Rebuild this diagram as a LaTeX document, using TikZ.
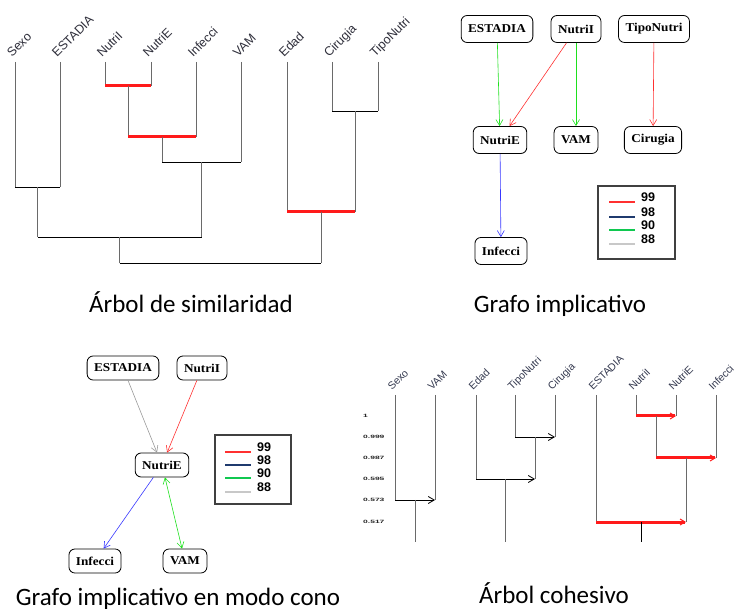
\documentclass[tikz,border=0pt]{standalone}
\usepackage{fontspec}
\setmainfont{Liberation Sans}
\newfontfamily\titlefam{Carlito}
\newfontfamily\varfam{Liberation Serif}[FakeStretch=1.1]
\usepackage{tikz}
\usetikzlibrary{arrows.meta,calc}
\usepackage{xcolor}
\definecolor{HotRed}{HTML}{FF1A1A}
\definecolor{ImpRed}{HTML}{FF3030}
\definecolor{ImpBlue}{HTML}{3838FF}
\definecolor{ImpGreen}{HTML}{1EE01E}
\definecolor{ImpGray}{HTML}{9A9A9A}
\definecolor{LegNavy}{HTML}{1F3A6E}
\definecolor{LegGreen}{HTML}{10C850}
\definecolor{LegGray}{HTML}{C8C8C8}
\definecolor{TreeGray}{HTML}{6A6A6A}
\definecolor{LabelInk}{HTML}{2E2E3A}
\definecolor{LabelBlue}{HTML}{34394F}
\tikzset{
  varnode/.style={draw=black,line width=0.8pt,rounded corners=6pt,fill=white,inner xsep=7pt,inner ysep=0pt,minimum height=27pt,font=\varfam\bfseries\fontsize{12}{14}\selectfont},
  conenode/.style={varnode,minimum height=24pt},
  implarrow/.style={-{Straight Barb[length=6pt,width=7pt]},line width=0.6pt},
  implboth/.style={{Straight Barb[length=6pt,width=7pt]}-{Straight Barb[length=6pt,width=7pt]},line width=0.6pt},
  leaflabel/.style={rotate=45,anchor=base west,inner sep=0pt,text=LabelInk,font=\fontsize{12.5}{14}\selectfont},
  cohlabel/.style={rotate=45,anchor=base west,inner sep=0pt,text=LabelBlue,font=\fontsize{10.5}{12}\selectfont},
  levellabel/.style={anchor=west,inner sep=0pt,yscale=0.55,text=black!85,font=\bfseries\fontsize{8.5}{9}\selectfont},
  stemline/.style={draw=TreeGray,line width=1pt},
  simlink/.style={draw=black,line width=0.8pt},
  hotlink/.style={draw=HotRed,line width=3pt},
  cohlink/.style={simlink,-{Straight Barb[length=6pt,width=7pt,line width=0.8pt]}},
  hotarrow/.style={hotlink,-{Straight Barb[length=5pt,width=6pt,line width=1pt]}},
  legendbox/.style={draw=black!75,line width=1.2pt,inner sep=0pt},
  legendtext/.style={anchor=west,inner sep=0pt,font=\bfseries\fontsize{12.5}{14}\selectfont},
  titletext/.style={anchor=base,inner sep=0pt,font=\titlefam\fontsize{25}{30}\selectfont}
}
\begin{document}
\begin{tikzpicture}[x=1pt,y=-1pt]
\useasboundingbox (0,0) rectangle (734,609);
% arbol de similaridad
\foreach \nm/\x in {Sexo/15,ESTADIA/60,NutriI/105,NutriE/151,Infecci/196,VAM/241,Edad/287,Cirugia/332,TipoNutri/378}{
  \coordinate (s\nm) at (\x,62);
  \node[leaflabel] (l\nm) at (\x-3,58) {\nm};
}
\coordinate (sA) at (128,86);
\coordinate (sB) at (162,137);
\coordinate (sC) at (201.5,162);
\coordinate (sD) at (37.5,187);
\coordinate (sE) at (119.5,237);
\coordinate (sF) at (355,111);
\coordinate (sG) at (321,212);
\coordinate (sH) at (220,263);
\foreach \a/\b/\j/\lk in {sNutriI/sNutriE/sA/hotlink,sA/sInfecci/sB/hotlink,sB/sVAM/sC/simlink,sSexo/sESTADIA/sD/simlink,sD/sC/sE/simlink,sCirugia/sTipoNutri/sF/simlink,sEdad/sF/sG/hotlink,sE/sG/sH/simlink}{
  \draw[stemline] (\a) -- (\a |- \j);
  \draw[stemline] (\b) -- (\b |- \j);
  \draw[\lk] (\a |- \j) -- (\b |- \j);
}
\node[titletext] (tSim) at (191,313) {Árbol de similaridad};
% grafo implicativo
\node[varnode] (gEstadia) at (497,29) {ESTADIA};
\node[varnode] (gNutriI) at (576,29) {NutriI};
\node[varnode] (gTipo) at (654,29) {TipoNutri};
\node[varnode] (gNutriE) at (500,140) {NutriE};
\node[varnode] (gVam) at (576,140) {VAM};
\node[varnode] (gCirugia) at (653,140) {Cirugia};
\node[varnode] (gInfecci) at (501,251) {Infecci};
\draw[implarrow,ImpGreen] (gEstadia) -- (gNutriE);
\draw[implarrow,ImpRed] (gNutriI) -- (gNutriE);
\draw[implarrow,ImpGreen] (gNutriI) -- (gVam);
\draw[implarrow,ImpRed] (gTipo) -- (gCirugia);
\draw[implarrow,ImpBlue] (gNutriE) -- (gInfecci);
\node[legendbox,minimum width=77pt,minimum height=73pt] (gLegend) at (636.5,222.5) {};
\foreach \c/\t/\y in {ImpRed/99/202,LegNavy/98/217,LegGreen/90/230,LegGray/88/244}{
  \draw[\c,line width=1.5pt] (609,\y) -- (635,\y);
  \node[legendtext] (gLeg\t) at (641,\y-5) {\t};
}
\node[titletext] (tImp) at (560,313) {Grafo implicativo};
% grafo implicativo en modo cono
\node[conenode] (oEstadia) at (123,368) {ESTADIA};
\node[conenode] (oNutriI) at (202,368) {NutriI};
\node[conenode] (oNutriE) at (162,465) {NutriE};
\node[conenode] (oInfecci) at (95,561) {Infecci};
\node[conenode] (oVam) at (185,561) {VAM};
\draw[implarrow,ImpGray] (oEstadia) -- (oNutriE);
\draw[implarrow,ImpRed] (oNutriI) -- (oNutriE);
\draw[implarrow,ImpBlue] (oNutriE) -- (oInfecci);
\draw[implboth,ImpGreen] (oNutriE) -- (oVam);
\node[legendbox,minimum width=76pt,minimum height=69pt] (oLegend) at (253,469.5) {};
\foreach \c/\t/\y in {ImpRed/99/452,LegNavy/98/465,LegGreen/90/478,LegGray/88/492}{
  \draw[\c,line width=1.5pt] (225,\y) -- (251,\y);
  \node[legendtext] (oLeg\t) at (257,\y-5) {\t};
}
\node[titletext] (tCone) at (178,605) {Grafo implicativo en modo cono};
% arbol cohesivo
\foreach \nm/\x in {Sexo/395,VAM/435,Edad/476,TipoNutri/515,Cirugia/555,ESTADIA/596,NutriI/636,NutriE/676,Infecci/716}{
  \coordinate (c\nm) at (\x,395);
  \node[cohlabel] (m\nm) at (\x-3,391) {\nm};
}
\foreach \lev/\y in {1/416,0.999/437,0.987/458,0.595/479,0.573/500,0.517/522}
  \node[levellabel] (v\y) at (363,\y) {\lev};
\coordinate (kA) at (656,416);
\coordinate (kB) at (686,458);
\coordinate (kC) at (641,522);
\coordinate (kD) at (535,437);
\coordinate (kE) at (505.5,479);
\coordinate (kF) at (415,500);
\foreach \a/\b/\j/\lk in {cNutriI/cNutriE/kA/hotarrow,kA/cInfecci/kB/hotarrow,cESTADIA/kB/kC/hotarrow,cTipoNutri/cCirugia/kD/cohlink,cEdad/kD/kE/cohlink,cSexo/cVAM/kF/cohlink}{
  \draw[stemline] (\a) -- (\a |- \j);
  \draw[stemline] (\b) -- (\b |- \j);
  \draw[\lk] (\a |- \j) -- (\b |- \j);
}
\coordinate (kCend) at (641,542);
\coordinate (kEend) at (505.5,542);
\coordinate (kFend) at (415,542);
\draw[simlink] (kC) -- (kCend);
\draw[stemline] (kE) -- (kEend);
\draw[stemline] (kF) -- (kFend);
\node[titletext] (tCoh) at (554,603) {Árbol cohesivo};
\end{tikzpicture}
\end{document}
